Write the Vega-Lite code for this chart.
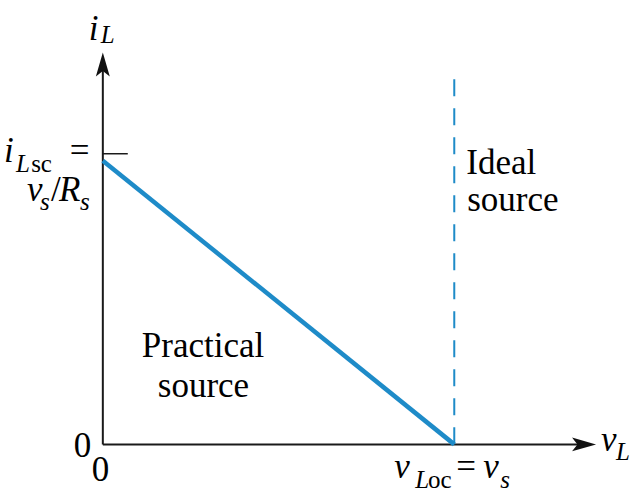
{
  "$schema": "https://vega.github.io/schema/vega-lite/v6.json",
  "width": 630,
  "height": 493,
  "padding": 0,
  "autosize": {"type": "fit", "contains": "padding"},
  "background": "white",
  "config": {"view": {"stroke": null}},
  "datasets": {
    "axes": [
      {"x": 0, "y": 0, "x2": 1.37, "y2": 0},
      {"x": 0, "y": 0, "x2": 0, "y2": 1.34}
    ],
    "tick": [{"x": 0, "y": 1.0245, "x2": 0.071, "y2": 1.0245}],
    "ideal": [{"x": 1, "y": 1.2867, "x2": 1, "y2": 0}],
    "practical": [{"x": 0, "y": 1}, {"x": 1, "y": 0}],
    "arrowRight": [{"x": 1.3693, "y": 0}],
    "arrowUp": [{"x": 0, "y": 1.3392}],
    "italicMain": [
      {"x": -0.0398, "y": 1.4266, "t": "i"},
      {"x": -0.2813, "y": 0.9965, "t": "i"},
      {"x": -0.2159, "y": 0.8566, "t": "v"},
      {"x": -0.1250, "y": 0.8566, "t": "R"},
      {"x": 0.8295, "y": -0.1189, "t": "v"},
      {"x": 1.0824, "y": -0.1189, "t": "v"},
      {"x": 1.4176, "y": -0.0245, "t": "v"}
    ],
    "italicSub": [
      {"x": -0.0057, "y": 1.4161, "t": "L"},
      {"x": -0.2472, "y": 0.9615, "t": "L"},
      {"x": -0.1790, "y": 0.8252, "t": "s"},
      {"x": -0.0653, "y": 0.8252, "t": "s"},
      {"x": 0.8892, "y": -0.1538, "t": "L"},
      {"x": 1.1307, "y": -0.1538, "t": "s"},
      {"x": 1.4602, "y": -0.0559, "t": "L"}
    ],
    "romanSub": [
      {"x": -0.2040, "y": 0.9615, "t": "sc"},
      {"x": 0.9250, "y": -0.1538, "t": "oc"}
    ],
    "romanMain": [
      {"x": -0.0938, "y": 0.9965, "t": "="},
      {"x": -0.1477, "y": 0.8566, "t": "/"},
      {"x": -0.0824, "y": -0.0455, "t": "0"},
      {"x": -0.0313, "y": -0.1294, "t": "0"},
      {"x": 1.0057, "y": -0.1189, "t": "="},
      {"x": 1.0341, "y": 0.9545, "t": "Ideal"},
      {"x": 1.0369, "y": 0.8217, "t": "source"},
      {"x": 0.1108, "y": 0.3077, "t": "Practical"},
      {"x": 0.1563, "y": 0.1678, "t": "source"}
    ]
  },
  "layer": [
    {
      "data": {"name": "axes"},
      "mark": {"type": "rule", "color": "#1a1a1a", "strokeWidth": 2},
      "encoding": {
        "x": {"field": "x", "type": "quantitative", "axis": null, "scale": {"domain": [-0.2926, 1.4972], "nice": false, "zero": false}},
        "y": {"field": "y", "type": "quantitative", "axis": null, "scale": {"domain": [-0.1573, 1.5664], "nice": false, "zero": false}},
        "x2": {"field": "x2"}, "y2": {"field": "y2"}}
    },
    {
      "data": {"name": "tick"},
      "mark": {"type": "rule", "color": "#1a1a1a", "strokeWidth": 1.5},
      "encoding": {
        "x": {"field": "x", "type": "quantitative"},
        "y": {"field": "y", "type": "quantitative"},
        "x2": {"field": "x2"}, "y2": {"field": "y2"}}
    },
    {
      "data": {"name": "ideal"},
      "mark": {"type": "rule", "color": "#1E8BC8", "strokeWidth": 2, "strokeDash": [17, 12]},
      "encoding": {
        "x": {"field": "x", "type": "quantitative"},
        "y": {"field": "y", "type": "quantitative"},
        "x2": {"field": "x2"}, "y2": {"field": "y2"}}
    },
    {
      "data": {"name": "practical"},
      "mark": {"type": "line", "color": "#1E8BC8", "strokeWidth": 4.5, "strokeCap": "butt"},
      "encoding": {
        "x": {"field": "x", "type": "quantitative"},
        "y": {"field": "y", "type": "quantitative"}}
    },
    {
      "data": {"name": "arrowRight"},
      "mark": {"type": "point", "filled": true, "color": "#111111", "opacity": 1, "strokeWidth": 0,
               "size": 576, "shape": "M1,0L-1,-0.58L-0.55,0L-1,0.58Z"},
      "encoding": {
        "x": {"field": "x", "type": "quantitative"},
        "y": {"field": "y", "type": "quantitative"}}
    },
    {
      "data": {"name": "arrowUp"},
      "mark": {"type": "point", "filled": true, "color": "#111111", "opacity": 1, "strokeWidth": 0,
               "size": 576, "shape": "M0,-1L-0.58,1L0,0.55L0.58,1Z"},
      "encoding": {
        "x": {"field": "x", "type": "quantitative"},
        "y": {"field": "y", "type": "quantitative"}}
    },
    {
      "data": {"name": "italicMain"},
      "mark": {"type": "text", "font": "Times New Roman", "fontStyle": "italic", "fontSize": 35,
               "align": "left", "baseline": "alphabetic"},
      "encoding": {
        "x": {"field": "x", "type": "quantitative"},
        "y": {"field": "y", "type": "quantitative"},
        "text": {"field": "t"}}
    },
    {
      "data": {"name": "italicSub"},
      "mark": {"type": "text", "font": "Liberation Serif", "fontStyle": "italic", "fontSize": 25,
               "align": "left", "baseline": "alphabetic"},
      "encoding": {
        "x": {"field": "x", "type": "quantitative"},
        "y": {"field": "y", "type": "quantitative"},
        "text": {"field": "t"}}
    },
    {
      "data": {"name": "romanSub"},
      "mark": {"type": "text", "font": "serif", "fontSize": 25,
               "align": "left", "baseline": "alphabetic"},
      "encoding": {
        "x": {"field": "x", "type": "quantitative"},
        "y": {"field": "y", "type": "quantitative"},
        "text": {"field": "t"}}
    },
    {
      "data": {"name": "romanMain"},
      "mark": {"type": "text", "font": "Liberation Serif", "fontSize": 35,
               "align": "left", "baseline": "alphabetic"},
      "encoding": {
        "x": {"field": "x", "type": "quantitative"},
        "y": {"field": "y", "type": "quantitative"},
        "text": {"field": "t"}}
    }
  ]
}
